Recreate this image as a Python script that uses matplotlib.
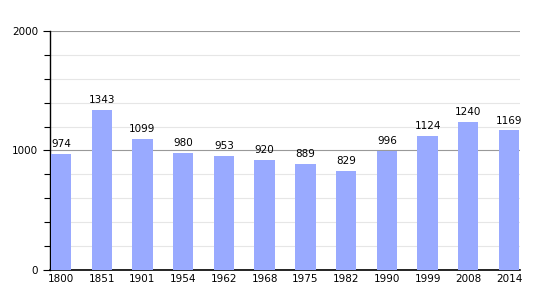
import matplotlib.pyplot as plt
from matplotlib.ticker import MultipleLocator

# Population by census year
years = ['1800', '1851', '1901', '1954', '1962', '1968', '1975', '1982',
         '1990', '1999', '2008', '2014']
population = [974, 1343, 1099, 980, 953, 920, 889, 829, 996, 1124, 1240, 1169]

fig = plt.figure(figsize=(5.5, 3), dpi=100)
ax = fig.add_axes([0.0909, 0.1, 0.8546, 0.7967])

x = range(len(years))
ax.bar(x, population, width=0.5, color='#99aaff', zorder=3)

for xi, v in zip(x, population):
    ax.text(xi, v + 40, str(v), ha='center', va='bottom', fontsize=7.5, zorder=4)

ax.set_xlim(-0.27, len(years) - 1 + 0.27)
ax.set_ylim(0, 2000)
ax.set_xticks(list(x))
ax.set_xticklabels(years, fontsize=7.5)
ax.yaxis.set_major_locator(MultipleLocator(1000))
ax.yaxis.set_minor_locator(MultipleLocator(200))
ax.tick_params(axis='y', which='major', labelsize=7.5, length=5, width=0.8)
ax.tick_params(axis='y', which='minor', length=4, width=0.8)
ax.tick_params(axis='x', length=0, pad=3)

ax.grid(axis='y', which='major', color='#999999', linewidth=0.8, zorder=0)
ax.grid(axis='y', which='minor', color='#e6e6e6', linewidth=0.8, zorder=0)

for side in ['top', 'right']:
    ax.spines[side].set_visible(False)
ax.spines['left'].set_linewidth(1)
ax.spines['bottom'].set_linewidth(1.2)

plt.savefig('out.png', dpi=100)
